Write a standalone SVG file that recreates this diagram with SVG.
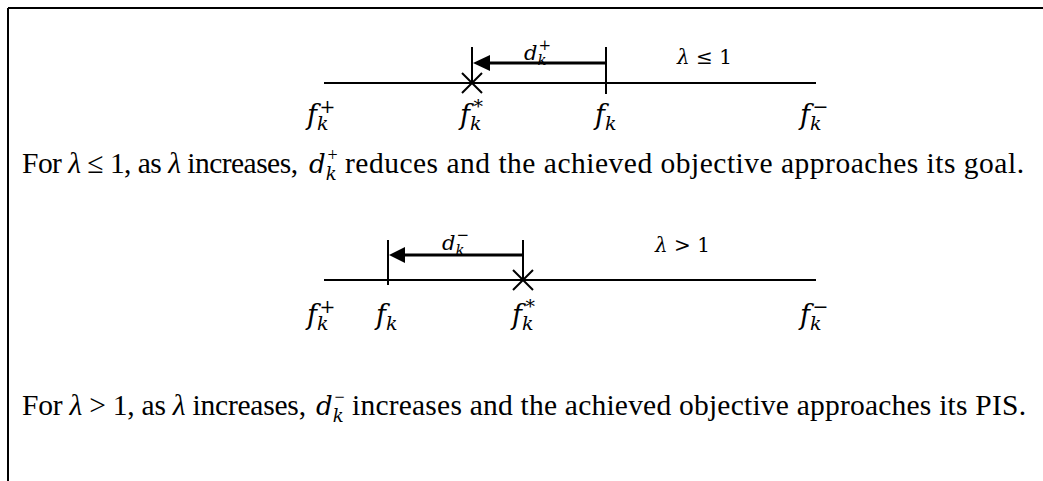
<svg xmlns="http://www.w3.org/2000/svg" width="1043" height="481" viewBox="0 0 1043 481">
<style>
.ax{stroke:#000;stroke-width:2;fill:none}
.ar{stroke:#000;stroke-width:3;fill:none}
.hd{fill:#000}
.m{font-family:"DejaVu Serif",serif;font-style:italic;font-size:27px;fill:#000}
.s{font-size:19px}
.r{font-style:normal}
.sm{font-family:"DejaVu Serif",serif;font-style:italic;font-size:21px;fill:#000}
.ss{font-size:15px}
.sl{font-family:"DejaVu Serif",serif;font-size:20px;fill:#000}
.t{font-family:"Liberation Serif",serif;font-size:29.5px;fill:#000}
.ti{font-style:italic}
.md{font-family:"DejaVu Serif",serif;font-style:italic;font-size:26px}
.ts{font-size:18px}
</style>
<g id="frame">
<path class="ax" d="M8,8 H1043 M8,8 V481"/>
</g>
<g id="diagram1">
<line class="ax" x1="324" y1="83" x2="816" y2="83"/>
<line class="ax" x1="472" y1="47" x2="472" y2="83"/>
<path class="ax" d="M462,73 L482,93 M462,93 L482,73"/>
<line class="ax" x1="606" y1="47" x2="606" y2="94"/>
<line class="ar" x1="606" y1="63" x2="486" y2="63"/>
<polygon class="hd" points="473,63 490,55 490,71"/>
<text class="sm" x="524" y="60">d<tspan class="ss" dy="5">k</tspan><tspan class="ss r" dx="-8" dy="-15">+</tspan></text>
<text class="sl" x="677" y="64"><tspan class="ti">λ</tspan> ≤ 1</text>
<text class="m" x="307" y="124">f<tspan class="s" dy="6">k</tspan><tspan class="s r" dx="-9" dy="-17">+</tspan></text>
<text class="m" x="460" y="124">f<tspan class="s" dy="6">k</tspan><tspan class="s r" dx="-8" dy="-17">*</tspan></text>
<text class="m" x="595" y="124">f<tspan class="s" dy="6">k</tspan></text>
<text class="m" x="800" y="124">f<tspan class="s" dy="6">k</tspan><tspan class="s r" dx="-9" dy="-17">−</tspan></text>
</g>
<g id="caption1">
<text class="t" x="22" y="173"><tspan textLength="276" lengthAdjust="spacing">For <tspan class="ti">λ</tspan> ≤ 1, as <tspan class="ti">λ</tspan> increases,</tspan><tspan class="md" x="309">d</tspan><tspan class="md ts" dy="7">k</tspan><tspan class="ts" dx="-9" dy="-19">+</tspan><tspan x="345" dy="12" textLength="679" lengthAdjust="spacing">reduces and the achieved objective approaches its goal.</tspan></text>
</g>
<g id="diagram2">
<line class="ax" x1="324" y1="280" x2="816" y2="280"/>
<line class="ax" x1="388" y1="240" x2="388" y2="285"/>
<line class="ax" x1="523" y1="240" x2="523" y2="280"/>
<path class="ax" d="M513,270 L533,290 M513,290 L533,270"/>
<line class="ar" x1="523" y1="255" x2="402" y2="255"/>
<polygon class="hd" points="389,255 405,247 405,263"/>
<text class="sm" x="442" y="250">d<tspan class="ss" dy="5">k</tspan><tspan class="ss r" dx="-8" dy="-15">−</tspan></text>
<text class="sl" x="655" y="252"><tspan class="ti">λ</tspan> &gt; 1</text>
<text class="m" x="307" y="324">f<tspan class="s" dy="6">k</tspan><tspan class="s r" dx="-9" dy="-17">+</tspan></text>
<text class="m" x="376" y="324">f<tspan class="s" dy="6">k</tspan></text>
<text class="m" x="512" y="324">f<tspan class="s" dy="6">k</tspan><tspan class="s r" dx="-8" dy="-17">*</tspan></text>
<text class="m" x="800" y="324">f<tspan class="s" dy="6">k</tspan><tspan class="s r" dx="-9" dy="-17">−</tspan></text>
</g>
<g id="caption2">
<text class="t" x="22" y="415"><tspan textLength="284" lengthAdjust="spacing">For <tspan class="ti">λ</tspan> &gt; 1, as <tspan class="ti">λ</tspan> increases,</tspan><tspan class="md" x="316">d</tspan><tspan class="md ts" dy="7">k</tspan><tspan class="ts" dx="-9" dy="-19">−</tspan><tspan x="352" dy="12" textLength="674" lengthAdjust="spacing">increases and the achieved objective approaches its PIS.</tspan></text>
</g>
</svg>
